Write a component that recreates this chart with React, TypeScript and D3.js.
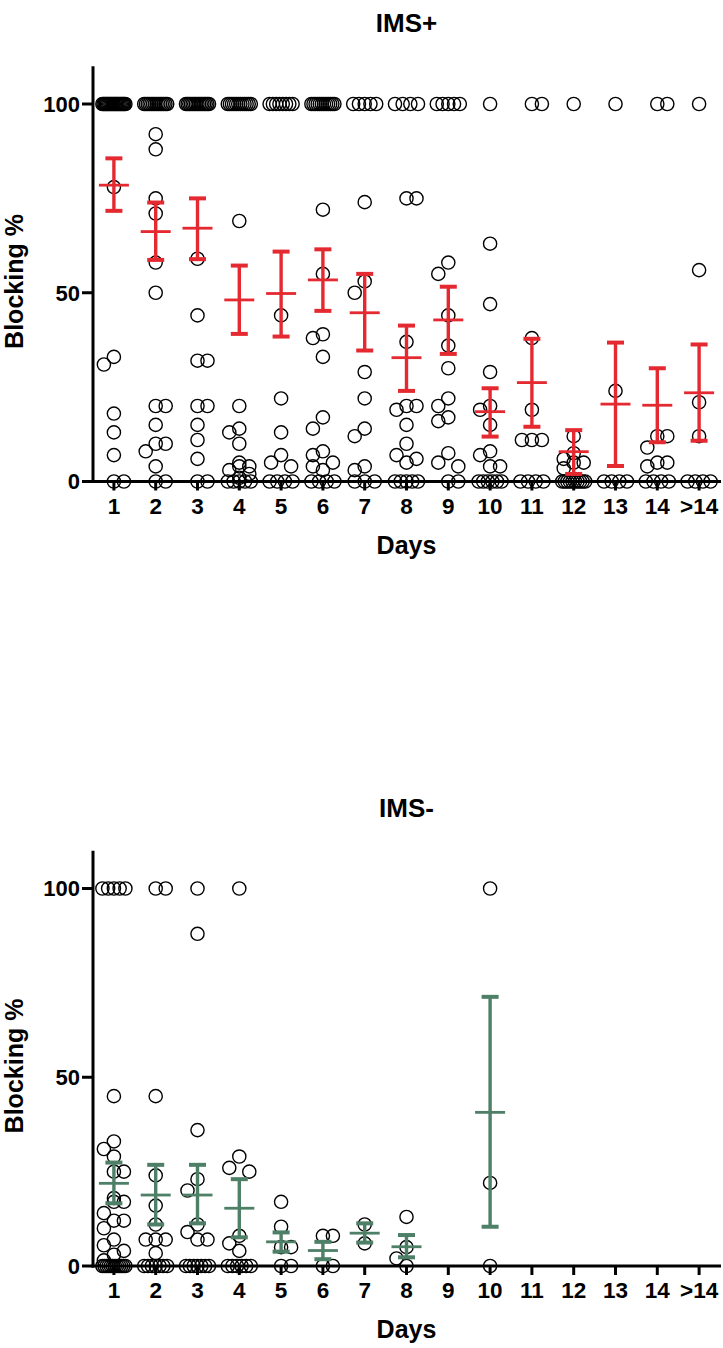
import React from 'react';
import * as d3 from 'd3';

const days = ['1', '2', '3', '4', '5', '6', '7', '8', '9', '10', '11', '12', '13', '14', '>14'];
const yTicks = [0, 50, 100];

// IMS+ individual blocking values per day
const imsPlusPoints: number[][] = [
  [100, 100, 100, 100, 100, 100, 100, 100, 100, 100, 100, 100, 100, 100, 100, 100, 100, 100, 100, 100, 100, 78, 33, 31, 18, 13, 7, 0, 0],
  [100, 100, 100, 100, 100, 100, 100, 100, 100, 100, 100, 100, 100, 100, 92, 88, 75, 71, 58, 50, 20, 20, 15, 10, 10, 8, 4, 0, 0],
  [100, 100, 100, 100, 100, 100, 100, 100, 100, 100, 100, 100, 100, 100, 100, 59, 44, 32, 32, 20, 20, 15, 11, 6, 0, 0],
  [100, 100, 100, 100, 100, 100, 100, 100, 100, 100, 100, 100, 69, 20, 14, 13, 10, 5, 4, 3.5, 3, 2, 1, 0, 0, 0, 0, 0],
  [100, 100, 100, 100, 100, 100, 100, 100, 44, 22, 13, 7, 5, 4, 0, 0, 0, 0],
  [100, 100, 100, 100, 100, 100, 100, 100, 100, 100, 100, 100, 72, 55, 39, 38, 33, 17, 14, 8, 7, 5, 4, 3, 0, 0, 0, 0],
  [100, 100, 100, 100, 100, 74, 53, 50, 29, 22, 14, 12, 4, 3, 0, 0, 0],
  [100, 100, 100, 100, 75, 75, 37, 20, 20, 19, 15, 10, 7, 6, 5, 0, 0, 0, 0, 0],
  [100, 100, 100, 100, 100, 58, 55, 44, 36, 30, 22, 20, 17, 16, 7.5, 5, 4, 0, 0],
  [100, 63, 47, 29, 20, 19, 15, 8, 7, 4, 3.5, 0, 0, 0, 0, 0, 0],
  [100, 100, 38, 19, 11, 11, 11, 0, 0, 0, 0],
  [100, 12, 7.5, 6, 5, 4.4, 3.5, 0, 0, 0, 0, 0, 0, 0, 0, 0, 0],
  [100, 24, 0, 0, 0, 0],
  [100, 100, 12, 12, 9, 5, 5, 4, 0, 0, 0, 0],
  [100, 56, 21, 12, 0, 0, 0, 0],
];
const imsPlusMean = [78.5, 66.2, 67.1, 48.1, 49.8, 53.4, 44.7, 32.8, 42.8, 18.5, 26.2, 7.9, 20.5, 20.2, 23.5];
const imsPlusUpper = [85.6, 73.9, 75.0, 57.2, 60.9, 61.5, 55.0, 41.3, 51.6, 24.7, 37.8, 13.6, 36.8, 30.0, 36.3];
const imsPlusLower = [71.7, 58.7, 58.9, 39.1, 38.4, 45.2, 34.7, 24.0, 33.8, 11.9, 14.5, 2.0, 4.1, 10.4, 10.8];

// IMS- individual blocking values per day
const imsMinusPoints: number[][] = [
  [100, 100, 100, 100, 100, 45, 33, 31, 29, 25, 25, 18, 17, 17, 14, 12, 12, 10, 7, 5.5, 4, 3, 1.5, 0, 0, 0, 0, 0, 0, 0, 0, 0, 0, 0, 0],
  [100, 100, 45, 24, 16, 11, 7, 7, 7, 3.4, 0, 0, 0, 0, 0, 0, 0],
  [100, 88, 36, 23, 20, 11, 9, 7, 7, 0, 0, 0, 0, 0, 0, 0],
  [100, 29, 26, 25, 8, 6, 4, 0, 0, 0, 0, 0, 0],
  [17, 10.4, 5, 5, 0, 0],
  [8, 8, 0, 0],
  [11, 6],
  [13, 5, 2, 0],
  [],
  [100, 22, 0],
  [],
  [],
  [],
  [],
  [],
];
const imsMinusMean: (number | null)[] = [21.9, 18.8, 18.8, 15.3, 6.4, 4.1, 8.7, 5.1, null, 40.7, null, null, null, null, null];
const imsMinusUpper: (number | null)[] = [27.4, 26.8, 26.8, 23.0, 8.9, 6.4, 11.3, 8.2, null, 71.3, null, null, null, null, null];
const imsMinusLower: (number | null)[] = [16.6, 11.0, 11.3, 7.6, 3.8, 1.8, 6.2, 2.3, null, 10.4, null, null, null, null, null];

const W = 723;
const H = 1348;
const FONT = '"Liberation Sans", Arial, Helvetica, sans-serif';
const R = 6.6;

type Placed = { v: number; dx: number };

function layoutDay(values: number[], y: (v: number) => number): Placed[] {
  const sorted = [...values].sort((a, b) => b - a);
  const clusters: number[][] = [];
  for (const v of sorted) {
    const last = clusters[clusters.length - 1];
    if (last && Math.abs(last[0] - v) < 0.6) last.push(v);
    else clusters.push([v]);
  }
  const placed: { v: number; dx: number; py: number }[] = [];
  const D = 12;
  for (const cl of clusters) {
    const n = cl.length;
    let offsets: number[];
    if (n === 1) offsets = [0];
    else if (n === 2) offsets = [0, 10];
    else {
      const s = Math.min(10, 23 / (n - 1));
      offsets = cl.map((_, i) => (i - (n - 1) / 2) * s);
    }
    const py = y(cl[0]);
    const candidates = n === 1 ? [0, -10, 10] : n === 2 ? [0, -10] : [0];
    let best = 0;
    let bestScore = Infinity;
    for (const c of candidates) {
      let score = 0;
      for (const o of offsets)
        for (const p of placed) {
          const d = Math.hypot(o + c - p.dx, py - p.py);
          if (d < D) score += D - d;
        }
      if (score < bestScore - 1e-6) {
        bestScore = score;
        best = c;
      }
    }
    offsets.forEach((o) => placed.push({ v: cl[0], dx: o + best, py }));
  }
  return placed;
}

type PanelProps = {
  title: string;
  y0: number;
  points: number[][];
  mean: (number | null)[];
  upper: (number | null)[];
  lower: (number | null)[];
  color: string;
};

function Panel({ title, y0, points, mean, upper, lower, color }: PanelProps) {
  const x = d3.scalePoint<string>().domain(days).range([93, 720]).padding(0.5);
  const y = d3.scaleLinear().domain([0, 110]).range([y0, y0 - 110 * 3.775]);
  const cx = 406.5;
  return (
    <g>
      <text x={cx} y={y0 - 449.5} textAnchor="middle" fontFamily={FONT} fontWeight="bold" fontSize={26}>
        {title}
      </text>
      {days.map((d, i) =>
        layoutDay(points[i], y).map((p, j) => (
          <circle
            key={`${d}-${j}`}
            cx={(x(d) as number) + p.dx}
            cy={y(p.v)}
            r={R}
            fill="none"
            stroke="#000"
            strokeWidth={1.4}
          />
        ))
      )}
      {days.map((d, i) => {
        const m = mean[i];
        const u = upper[i];
        const l = lower[i];
        if (m == null || u == null || l == null) return null;
        const xc = x(d) as number;
        return (
          <g key={`e-${d}`} stroke={color}>
            <line x1={xc} x2={xc} y1={y(u)} y2={y(l)} strokeWidth={3.4} />
            <line x1={xc - 8.5} x2={xc + 8.5} y1={y(u)} y2={y(u)} strokeWidth={4} />
            <line x1={xc - 8.5} x2={xc + 8.5} y1={y(l)} y2={y(l)} strokeWidth={4} />
            <line x1={xc - 15} x2={xc + 15} y1={y(m)} y2={y(m)} strokeWidth={2.8} />
          </g>
        );
      })}
      <line x1={93} x2={93} y1={y(110)} y2={y0 + 1.5} stroke="#000" strokeWidth={3} />
      <line x1={91.5} x2={721} y1={y0} y2={y0} stroke="#000" strokeWidth={3} />
      {yTicks.map((t) => (
        <g key={`yt-${t}`}>
          <line x1={82} x2={93} y1={y(t)} y2={y(t)} stroke="#000" strokeWidth={3} />
          <text
            x={80}
            y={y(t)}
            dy="0.36em"
            textAnchor="end"
            fontFamily={FONT}
            fontWeight="bold"
            fontSize={22}
          >
            {t}
          </text>
        </g>
      ))}
      {days.map((d) => (
        <g key={`xt-${d}`}>
          <line x1={x(d)} x2={x(d)} y1={y0} y2={y0 + 9} stroke="#000" strokeWidth={3} />
          <text
            x={x(d)}
            y={y0 + 32}
            textAnchor="middle"
            fontFamily={FONT}
            fontWeight="bold"
            fontSize={22.5}
          >
            {d}
          </text>
        </g>
      ))}
      <text x={cx} y={y0 + 72} textAnchor="middle" fontFamily={FONT} fontWeight="bold" fontSize={25}>
        Days
      </text>
      <text
        transform={`translate(23,${y0 - 200}) rotate(-90)`}
        textAnchor="middle"
        fontFamily={FONT}
        fontWeight="bold"
        fontSize={25}
      >
        Blocking %
      </text>
    </g>
  );
}

export default function App() {
  return (
    <svg
      width={W}
      height={H}
      viewBox={`0 0 ${W} ${H}`}
      style={{ position: 'absolute', left: 0, top: 0, display: 'block', background: '#fff' }}
    >
      <rect width={W} height={H} fill="#fff" />
      <Panel
        title="IMS+"
        y0={481.5}
        points={imsPlusPoints}
        mean={imsPlusMean}
        upper={imsPlusUpper}
        lower={imsPlusLower}
        color="#e42a30"
      />
      <Panel
        title="IMS-"
        y0={1266}
        points={imsMinusPoints}
        mean={imsMinusMean}
        upper={imsMinusUpper}
        lower={imsMinusLower}
        color="#4e7f67"
      />
    </svg>
  );
}
